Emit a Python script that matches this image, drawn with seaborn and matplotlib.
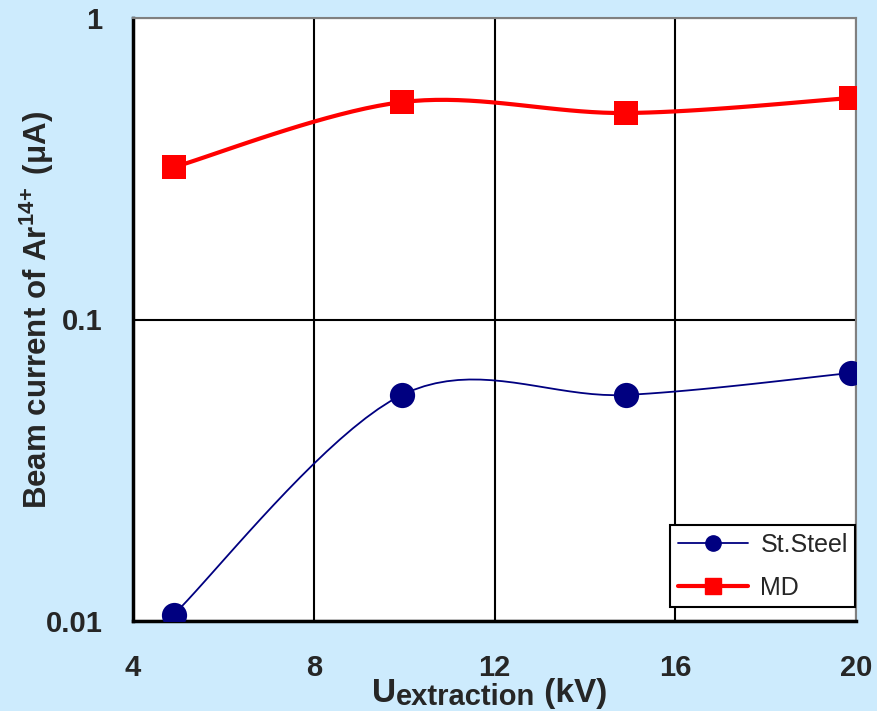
import matplotlib
matplotlib.use("Agg")
import matplotlib.pyplot as plt
import numpy as np
import pandas as pd
import seaborn as sns
from matplotlib.lines import Line2D
from matplotlib.ticker import FixedLocator, NullFormatter, LogLocator

# values
u_extraction = [4.9, 9.95, 14.9, 19.9]
steel_current = [0.0105, 0.0562, 0.0562, 0.0665]
md_current = [0.32, 0.526, 0.484, 0.543]
series_names = ["St.Steel", "MD"]
x_ticks = [4, 8, 12, 16, 20]
y_ticks = [0.01, 0.1, 1]
y_tick_labels = ["0.01", "0.1", "1"]

BG = "#cdebfd"
NAVY = "#000080"
RED = "#ff0000"
W, H = 877, 711


def smooth_curve(x, y, steps=20):
    """ Excel-like smoothed line (Catmull-Rom) through the points, in log y space """
    px = np.array(x, dtype=float)
    py = np.log10(np.array(y, dtype=float))
    px = np.concatenate([[px[0]], px, [px[-1]]])
    py = np.concatenate([[py[0]], py, [py[-1]]])
    xs, ys = [], []
    for i in range(1, len(px) - 2):
        t = np.linspace(0, 1, steps, endpoint=False)
        for arr, out in ((px, xs), (py, ys)):
            p0, p1, p2, p3 = arr[i - 1], arr[i], arr[i + 1], arr[i + 2]
            out.extend(0.5 * ((2 * p1) + (-p0 + p2) * t
                              + (2 * p0 - 5 * p1 + 4 * p2 - p3) * t ** 2
                              + (-p0 + 3 * p1 - 3 * p2 + p3) * t ** 3))
    xs.append(px[-1])
    ys.append(py[-1])
    return np.array(xs), 10 ** np.array(ys)


sns.set_style("white")
plt.rcParams["font.family"] = ["Liberation Sans", "DejaVu Sans"]
plt.rcParams["mathtext.fontset"] = "custom"
plt.rcParams["mathtext.rm"] = "Liberation Sans:bold"
plt.rcParams["mathtext.bf"] = "Liberation Sans:bold"

fig = plt.figure(figsize=(W / 100, H / 100), dpi=100, facecolor=BG)
ax = fig.add_axes([133 / W, 1 - 621 / H, 723 / W, 603 / H])
ax.set_facecolor("white")

# smoothed lines
sx, sy = smooth_curve(u_extraction, steel_current)
mx, my = smooth_curve(u_extraction, md_current)
sns.lineplot(x=sx, y=sy, ax=ax, color=NAVY, linewidth=1.3, sort=False, zorder=3)
sns.lineplot(x=mx, y=my, ax=ax, color=RED, linewidth=3, sort=False, zorder=3)

# markers
sns.scatterplot(x=u_extraction, y=steel_current, ax=ax, color=NAVY, marker="o",
                s=330, edgecolor=NAVY, linewidth=0, zorder=4)
sns.scatterplot(x=u_extraction, y=md_current, ax=ax, color=RED, marker="s",
                s=300, edgecolor=RED, linewidth=0, zorder=4)

ax.set_yscale("log")
ax.set_xlim(4, 20)
ax.set_ylim(0.01, 1)

ax.set_xticks(x_ticks)
ax.set_xticklabels([str(v) for v in x_ticks], fontsize=21, fontweight="bold")
ax.xaxis.set_minor_locator(FixedLocator(range(4, 21)))
ax.set_yticks(y_ticks)
ax.set_yticklabels(y_tick_labels, fontsize=21, fontweight="bold")
ax.yaxis.set_minor_locator(LogLocator(base=10, subs=np.arange(2, 10)))
ax.yaxis.set_minor_formatter(NullFormatter())

ax.tick_params(axis="both", which="both", direction="in", top=False, right=False,
               color="black", width=1.5)
ax.tick_params(axis="x", which="major", length=0, pad=24)
ax.tick_params(axis="y", which="major", length=0, pad=22)
ax.tick_params(axis="both", which="minor", length=5)

ax.grid(True, which="major", color="black", linewidth=1.5)

for side in ["left", "bottom"]:
    ax.spines[side].set_color("black")
    ax.spines[side].set_linewidth(2.5)
for side in ["top", "right"]:
    ax.spines[side].set_color("#808080")
    ax.spines[side].set_linewidth(1.5)

ax.set_ylabel("Beam current of Ar$^{\\mathrm{14\\!+}}$ (μA)", fontsize=22.5, fontweight="bold")
ax.yaxis.set_label_coords(-0.107, 0.515)

# x label: "U" with a large subscript "extraction", then "(kV)"
renderer = fig.canvas.get_renderer()
x0 = 372
parts = [("U", 24, 702), ("extraction", 21, 705), (" (kV)", 24, 702)]
for text, size, baseline in parts:
    t = fig.text(x0 / W, 1 - baseline / H, text, fontsize=size, fontweight="bold",
                 ha="left", va="baseline")
    x0 += t.get_window_extent(renderer).width

handles = [
    Line2D([], [], color=NAVY, linewidth=1.3, marker="o", markersize=11),
    Line2D([], [], color=RED, linewidth=3, marker="s", markersize=11),
]
leg = ax.legend(handles, series_names, loc="lower right", bbox_to_anchor=(0.999, 0.023),
                borderaxespad=0, fontsize=18, frameon=True, fancybox=False,
                edgecolor="black", framealpha=1, handlelength=2.8, handletextpad=0.5,
                borderpad=0.3, labelspacing=0.75)
leg.get_frame().set_linewidth(1.5)

fig.savefig("out.png", dpi=100, facecolor=BG)
